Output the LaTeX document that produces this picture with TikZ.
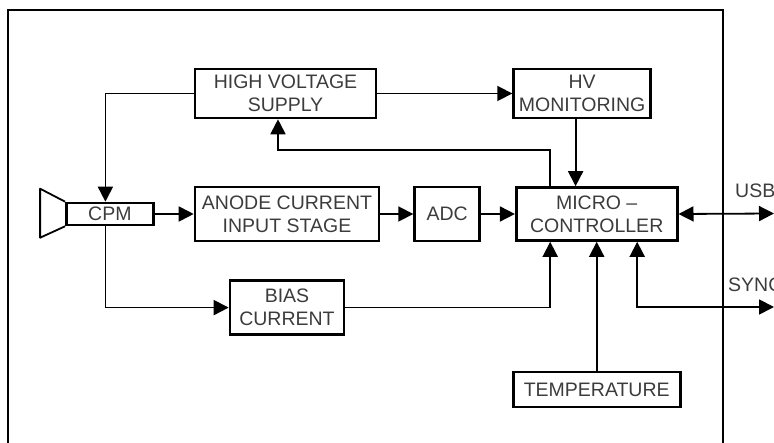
\documentclass[tikz,border=0pt]{standalone}
\usepackage{fontspec}
\setmainfont{Liberation Sans}
\usepackage{tikz}
\usetikzlibrary{arrows.meta,positioning}
\definecolor{boxtext}{RGB}{60,60,60}

\begin{document}
\begin{tikzpicture}[
    x=1pt, y=-1pt,
    box/.style={rectangle, draw=black, line width=2.6pt, inner sep=2pt, align=center, text=boxtext, font=\fontsize{19.5}{23}\selectfont},
    arrow/.style={-{Triangle[length=15pt,width=15pt]}, line width=1.8pt},
    biarrow/.style={{Triangle[length=15pt,width=15pt]}-{Triangle[length=15pt,width=15pt]}, line width=1.8pt},
    label/.style={font=\fontsize{19.5}{23}\selectfont, text=boxtext, inner sep=0pt}
]
\useasboundingbox (0,0) rectangle (774,443);

% Outer frame
\draw[line width=2.4pt] (8,460) |- (723,10) -- (723,460);

% Main components
\node[box, minimum width=184pt, minimum height=54pt] (anode) at (287,214) {ANODE CURRENT\\INPUT STAGE};
\node[box, minimum width=65pt, minimum height=54pt, right=33pt of anode] (adc) {ADC};
\node[box, minimum width=161pt, minimum height=53pt, right=34pt of adc] (micro) {MICRO --\\CONTROLLER};
\node[box, minimum width=87pt, minimum height=22pt, left=39pt of anode] (cpm) {CPM};
\node[box, minimum width=181pt, minimum height=49pt] (hvs) at (285.5,93.5) {HIGH VOLTAGE\\SUPPLY};
\node[box, minimum width=137pt, minimum height=49pt, right=135pt of hvs] (hvmon) {HV\\MONITORING};
\node[box, minimum width=114pt, minimum height=54pt, below=37pt of anode] (bias) {BIAS\\CURRENT};
\node[box, minimum width=167pt, minimum height=35pt, below=129pt of micro] (temp) {TEMPERATURE};

% Detector horn
\draw[line width=1.8pt, line join=round] (cpm.north west) -- ++(-25,-13) -- ++(0,49) -- (cpm.south west);

% Outputs
\coordinate (usb) at (774,213.5);
\coordinate (sync) at (774,307);
\node[label, anchor=west] (usblabel) at (735,191) {USB};
\node[label, anchor=west] (synclabel) at (728,285) {SYNC};

% Arrows
\draw[arrow] (hvs) -- (hvmon);
\draw[arrow] (hvs.west) -| ([xshift=-4.5pt]cpm.north);
\draw[arrow] ([xshift=-6.5pt]hvmon.south) -- ([xshift=-6.5pt]hvmon.south |- micro.north);
\draw[arrow] ([xshift=-46.5pt]micro.north) -- ++(0,-36) -| ([xshift=-7.5pt]hvs.south);
\draw[arrow] (cpm) -- (anode);
\draw[arrow] (anode) -- (adc);
\draw[arrow] (adc) -- (micro);
\draw[arrow] ([xshift=-4.5pt]cpm.south) |- (bias.west);
\draw[arrow] (bias.east) -| ([xshift=-46.5pt]micro.south);
\draw[arrow] (temp.north) -- (temp.north |- micro.south);
\draw[biarrow] (micro.east) -- (usb);
\draw[biarrow] ([xshift=40.5pt]micro.south) |- (sync);

\end{tikzpicture}
\end{document}
